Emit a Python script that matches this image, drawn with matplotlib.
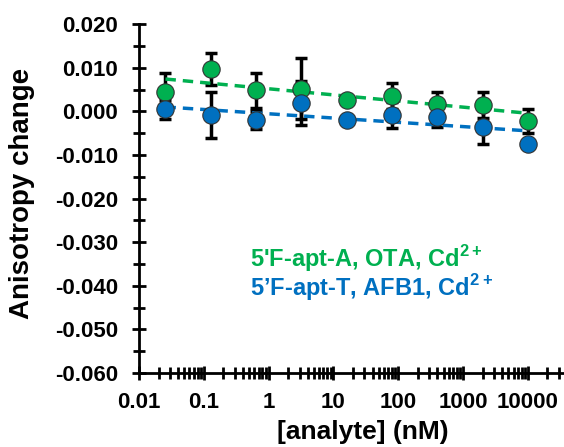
import numpy as np
import matplotlib
matplotlib.use('Agg')
import matplotlib.pyplot as plt
from matplotlib.ticker import FixedLocator, LogLocator, NullFormatter, FuncFormatter

plt.rcParams['font.family'] = ['Liberation Sans', 'DejaVu Sans']
plt.rcParams['font.weight'] = 'bold'
plt.rcParams['mathtext.fontset'] = 'custom'
plt.rcParams['mathtext.rm'] = 'Liberation Sans:bold'
plt.rcParams['mathtext.bf'] = 'Liberation Sans:bold'

# data: 5-fold dilution series (nM)
conc = [0.0256, 0.128, 0.64, 3.2, 16, 80, 400, 2000, 10000]
ota_y = [0.0044, 0.0097, 0.0048, 0.0052, 0.0027, 0.0036, 0.0018, 0.0014, -0.0022]
ota_err = [0.0043, 0.0036, 0.0040, 0.0070, 0.0005, 0.0030, 0.0026, 0.0030, 0.0027]
afb_y = [0.0005, -0.0009, -0.0020, 0.0019, -0.0019, -0.0009, -0.0013, -0.0036, -0.0074]
afb_err = [0.0022, 0.0053, 0.0020, 0.0050, 0.0005, 0.0030, 0.0024, 0.0038, 0.0005]

green = '#00B050'
blue = '#0070C0'

fig = plt.figure(figsize=(5.64, 4.47), dpi=100)
ax = fig.add_axes([0.2465, 0.1655, 0.7535, 0.7805])

for y, err, col in [(ota_y, ota_err, green), (afb_y, afb_err, blue)]:
    ax.errorbar(conc, y, yerr=err, fmt='none', ecolor='black', elinewidth=2.5,
                capsize=4, capthick=2.5, zorder=2)
    # log trendline
    k, b = np.polyfit(np.log10(conc), y, 1)
    xs = np.array([conc[0], conc[-1]])
    ax.plot(xs, k * np.log10(xs) + b, '--', color=col, lw=2.5, dashes=(3, 2), zorder=3)
    ax.plot(conc, y, 'o', color=col, markersize=12.5, markeredgecolor='#333333',
            markeredgewidth=0.8, zorder=4)

ax.set_xscale('log')
ax.set_xlim(0.01, 36000)
ax.set_ylim(-0.060, 0.020)
ax.xaxis.set_major_locator(FixedLocator([0.01, 0.1, 1, 10, 100, 1000, 10000]))
ax.xaxis.set_minor_locator(LogLocator(base=10, subs=np.arange(2, 10)))
ax.xaxis.set_minor_formatter(NullFormatter())
ax.xaxis.set_major_formatter(FuncFormatter(lambda v, p: '%g' % v))
ax.yaxis.set_major_locator(FixedLocator(np.arange(-0.06, 0.0201, 0.01)))
ax.yaxis.set_minor_locator(FixedLocator(np.arange(-0.055, 0.02, 0.01)))
ax.yaxis.set_major_formatter(FuncFormatter(lambda v, p: '%.3f' % (0 if abs(v) < 1e-9 else v)))

for s in ['top', 'right']:
    ax.spines[s].set_visible(False)
for s in ['left', 'bottom']:
    ax.spines[s].set_linewidth(2)
ax.tick_params(which='major', direction='inout', length=10, width=2, labelsize=16)
ax.tick_params(axis='y', which='major', pad=10)
ax.tick_params(axis='x', which='major', pad=9)
ax.tick_params(which='minor', direction='inout', length=8, width=2)
for lab in ax.get_xticklabels() + ax.get_yticklabels():
    lab.set_fontweight('bold')

ax.set_xlabel('[analyte] (nM)', fontsize=19, fontweight='bold')
ax.set_ylabel('Anisotropy change', fontsize=20, fontweight='bold')
ax.xaxis.set_label_coords(0.527, -0.135)
ax.yaxis.set_label_coords(-0.245, 0.516)

ax.text(0.262, 0.305, "5'F-apt-A, OTA, Cd$^{2+}$", transform=ax.transAxes,
        color=green, fontsize=17, fontweight='bold')
ax.text(0.262, 0.22, "5\u2019F-apt-T, AFB1, Cd$^{2+}$", transform=ax.transAxes,
        color=blue, fontsize=17, fontweight='bold')

fig.savefig('out.png', dpi=100)
